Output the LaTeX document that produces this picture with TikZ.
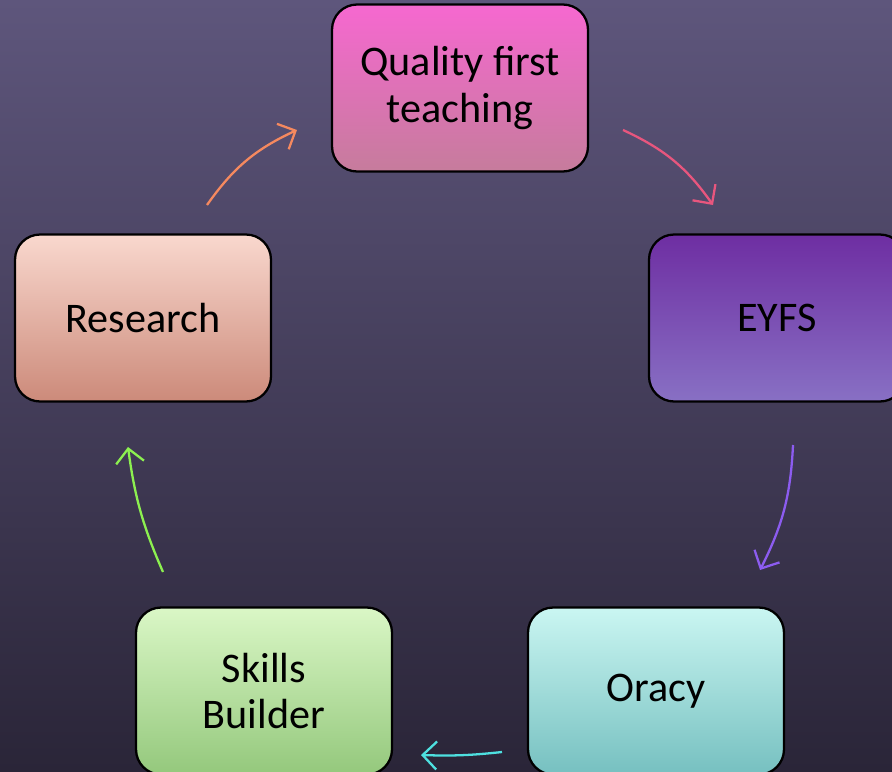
\documentclass[tikz,border=0pt]{standalone}
\usepackage{fontspec}
\setmainfont{Carlito}
\usetikzlibrary{arrows.meta}
\definecolor{bgtop}{RGB}{94,86,124}
\definecolor{bgbot}{RGB}{42,37,56}
\definecolor{qtop}{RGB}{246,104,208}
\definecolor{qbot}{RGB}{198,124,156}
\definecolor{etop}{RGB}{110,46,162}
\definecolor{ebot}{RGB}{136,112,196}
\definecolor{otop}{RGB}{202,246,242}
\definecolor{obot}{RGB}{118,192,192}
\definecolor{stop}{RGB}{218,247,198}
\definecolor{sbot}{RGB}{148,200,124}
\definecolor{rtop}{RGB}{249,216,206}
\definecolor{rbot}{RGB}{204,138,122}
\definecolor{aorange}{RGB}{245,137,95}
\definecolor{apink}{RGB}{232,86,126}
\definecolor{apurple}{RGB}{140,92,240}
\definecolor{acyan}{RGB}{78,224,224}
\definecolor{agreen}{RGB}{140,240,80}
\begin{document}
\begin{tikzpicture}[x=0.02cm,y=-0.02cm,
  box/.style 2 args={draw=black,line width=1.3pt,rounded corners=0.5cm,
    minimum width=5.12cm,minimum height=3.34cm,align=center,
    top color=#1,bottom color=#2,font=\fontsize{24}{26.5}\selectfont},
  cyc/.style={draw=#1,line width=1.3pt,-{Straight Barb[length=2.8mm,width=5.6mm,line width=1.3pt]}}]
\useasboundingbox (0,0) rectangle (892,771);
\shade[top color=bgtop,bottom color=bgbot] (0,0) rectangle (892,771);
\node[box={qtop}{qbot}] (qft) at (460,88) {Quality first\\teaching};
\node[box={etop}{ebot}] (eyfs) at (777,318) {EYFS};
\node[box={otop}{obot}] (ora) at (656,691) {Oracy};
\node[box={stop}{sbot}] (skb) at (264,691) {Skills\\Builder};
\node[box={rtop}{rbot}] (res) at (143,318) {Research};
\coordinate (r1) at (207,205); \coordinate (r2) at (297,130);
\coordinate (q1) at (623,130); \coordinate (q2) at (713,205);
\coordinate (e1) at (793,445); \coordinate (e2) at (760,570);
\coordinate (o1) at (502,752); \coordinate (o2) at (421,755);
\coordinate (s1) at (163,572); \coordinate (s2) at (128,447);
\draw[cyc=aorange](r1) to[bend left=15] (r2);
\draw[cyc=apink](q1) to[bend left=15] (q2);
\draw[cyc=apurple](e1) to[bend left=12] (e2);
\draw[cyc=acyan](o1) to[bend left=4] (o2);
\draw[cyc=agreen](s1) to[bend left=8] (s2);
\end{tikzpicture}
\end{document}
